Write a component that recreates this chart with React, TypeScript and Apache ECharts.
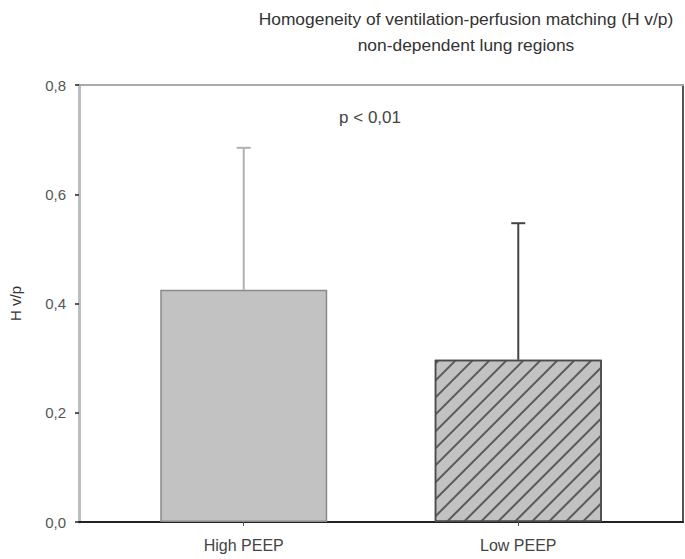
import React, { useEffect, useRef } from "react";
import * as echarts from "echarts";

const titleLines = [
  "Homogeneity of ventilation-perfusion matching (H v/p)",
  "non-dependent lung regions",
];
const categories = ["High PEEP", "Low PEEP"];
const categoryPos = [1, 2];
const means = [0.425, 0.297];
const sds = [0.26, 0.25];
const yTicks = [0, 0.2, 0.4, 0.6, 0.8];
const annotation = "p < 0,01";
const yName = "H v/p";

const FONT = "'Liberation Sans', Arial, sans-serif";

export default function App() {
  const ref = useRef<HTMLDivElement>(null);
  useEffect(() => {
    if (!ref.current) return;
    const chart = echarts.init(ref.current, null, { renderer: "svg" });
    const barData = categoryPos.map((x, i) => ({
      value: [x, means[i]],
      itemStyle:
        i === 0
          ? { color: "#c2c2c2", borderColor: "#8a8a8a", borderWidth: 1.5 }
          : {
              color: "#c2c2c2",
              borderColor: "#4a4a4a",
              borderWidth: 1.5,
              decal: {
                symbol: "rect",
                symbolSize: 1,
                dashArrayX: [1, 0],
                dashArrayY: [1.5, 10],
                rotation: -Math.PI / 4,
                color: "#5a5a5a",
              },
            },
    }));
    const errData = categoryPos.map((x, i) => [x, means[i], means[i] + sds[i]]);
    const errColors = ["#b0b0b0", "#444444"];
    chart.setOption({
      animation: false,
      textStyle: { fontFamily: FONT },
      title: {
        text: titleLines.join("\n"),
        left: 461,
        top: 1,
        textAlign: "center",
        textStyle: {
          fontFamily: FONT,
          fontSize: 17.4,
          fontWeight: "normal",
          color: "#333",
          lineHeight: 26,
        },
      },
      grid: { left: 74, right: 2, top: 85, bottom: 37 },
      xAxis: [
        {
          type: "value",
          min: 0.4,
          max: 2.6,
          splitLine: { show: false },
          axisLine: { onZero: false, lineStyle: { color: "#222", width: 2 } },
          axisTick: {
            customValues: categoryPos,
            length: 4,
            lineStyle: { color: "#555", width: 1 },
          },
          axisLabel: {
            customValues: categoryPos,
            formatter: (v: number) => categories[categoryPos.indexOf(v)] ?? "",
            fontSize: 16,
            color: "#444",
            margin: 15,
            fontFamily: FONT,
          },
        },
        {
          type: "value",
          position: "top",
          min: 0.4,
          max: 2.6,
          splitLine: { show: false },
          axisLine: { show: true, onZero: false, lineStyle: { color: "#aaa", width: 2 } },
          axisTick: { show: false },
          axisLabel: { show: false },
        },
      ],
      yAxis: [
        {
          type: "value",
          min: 0,
          max: 0.8,
          interval: 0.2,
          splitLine: { show: false },
          axisLine: { show: true, onZero: false, lineStyle: { color: "#bdbdbd", width: 3 } },
          axisTick: { show: true, length: 4, lineStyle: { color: "#222", width: 1.5 } },
          axisLabel: {
            formatter: (v: number) => {
              const t = yTicks.find((x) => Math.abs(x - v) < 1e-9);
              return t === undefined ? "" : t.toFixed(1).replace(".", ",");
            },
            fontSize: 15,
            color: "#555",
            margin: 13,
            fontFamily: FONT,
          },
          name: yName,
          nameLocation: "middle",
          nameGap: 56,
          nameTextStyle: { fontSize: 15, color: "#333", fontFamily: FONT },
        },
        {
          type: "value",
          position: "right",
          min: 0,
          max: 0.8,
          splitLine: { show: false },
          axisLine: { show: true, onZero: false, lineStyle: { color: "#555", width: 2 } },
          axisTick: { show: false },
          axisLabel: { show: false },
        },
      ],
      graphic: [
        {
          type: "text",
          x: 370,
          y: 117,
          style: {
            text: annotation,
            fontSize: 17,
            fill: "#444",
            fontFamily: FONT,
            textAlign: "center",
            textVerticalAlign: "middle",
          },
        },
      ],
      series: [
        {
          type: "bar",
          xAxisIndex: 0,
          yAxisIndex: 0,
          barWidth: 167,
          data: barData,
          z: 2,
        },
        {
          type: "custom",
          xAxisIndex: 0,
          yAxisIndex: 0,
          z: 3,
          data: errData,
          renderItem: (params: any, api: any) => {
            const x = api.value(0);
            const base = api.coord([x, api.value(1)]);
            const top = api.coord([x, api.value(2)]);
            const color = errColors[params.dataIndex];
            return {
              type: "group",
              children: [
                {
                  type: "line",
                  shape: { x1: base[0], y1: base[1], x2: top[0], y2: top[1] },
                  style: { stroke: color, lineWidth: 2 },
                },
                {
                  type: "line",
                  shape: { x1: top[0] - 7, y1: top[1], x2: top[0] + 7, y2: top[1] },
                  style: { stroke: color, lineWidth: 2 },
                },
              ],
            };
          },
        },
      ],
    });
    return () => chart.dispose();
  }, []);
  return <div ref={ref} style={{ width: 685, height: 559, position: "absolute", left: 0, top: 0 }} />;
}
